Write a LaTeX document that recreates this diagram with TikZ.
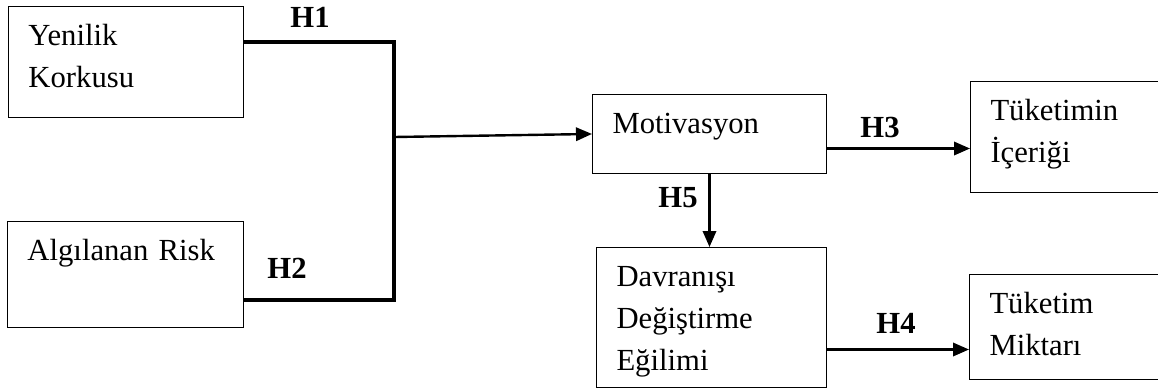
\documentclass[tikz,border=0pt]{standalone}
\usepackage{fontspec}
\setmainfont{Liberation Serif}
\usepackage{tikz}
\usetikzlibrary{arrows.meta}

\begin{document}
\begin{tikzpicture}[
      x=0.75pt, y=-0.75pt,
      box/.style={draw, line width=0.75pt, anchor=north west, inner xsep=15pt, inner ysep=0pt,
                   align=left, text height=29.6pt, text depth=#1,
                   font=\fontsize{23pt}{31.5pt}\selectfont},
      link/.style={line width=2.3pt},
      arr/.style={-{Triangle[length=12pt,width=10pt]}, line width=1.8pt},
      hyp/.style={inner sep=0pt, font=\fontsize{23pt}{24pt}\selectfont\bfseries}
    ]
    \clip (0,0) rectangle (1158,390);
    \node[box=53.6pt, text width=146.25pt] (yen) at (8,6) {Yenilik\\Korkusu};
    \node[box=49.9pt, text width=147pt] (alg) at (7,221) {Algılanan Risk};
    \node[box=29.6pt, text width=145.5pt] (mot) at (592,94) {Motivasyon};
    \node[box=75.4pt, text width=142.5pt] (dav) at (596,247) {Davranışı\\Değiştirme\\Eğilimi};
    \node[box=53.6pt, text width=135pt] (tic) at (970,81) {Tüketimin\\İçeriği};
    \node[box=49.1pt, text width=135pt] (mik) at (969,274) {Tüketim\\Miktarı};
    \coordinate (j1) at (394,42);
    \coordinate (j2) at (394,300);
    \coordinate (jm) at (394,137);
    \draw[link] (yen.east |- j1) -- (j1) -- (j2) -- (alg.east |- j2);
    \draw[arr] (jm) -- (mot.west);
    \draw[arr] ([yshift=-10.9pt]mot.east) -- ([yshift=-10.9pt]mot.east -| tic.west);
    \draw[arr] (mot.south) -- (mot.south |- dav.north);
    \draw[arr] ([yshift=-24pt]dav.east) -- ([yshift=-24pt]dav.east -| mik.west);
    \node[hyp] (h1) at (310,17) {H1};
    \node[hyp] (h2) at (287,268) {H2};
    \node[hyp] (h3) at (880,127) {H3};
    \node[hyp] (h4) at (896,323) {H4};
    \node[hyp] (h5) at (678,198) {H5};
  \end{tikzpicture}
\end{document}
